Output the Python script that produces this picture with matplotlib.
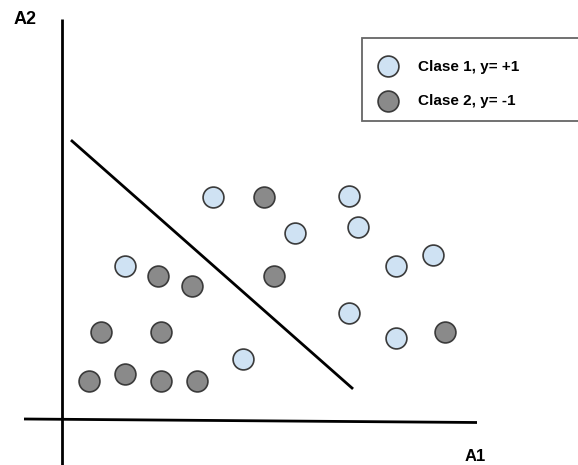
import matplotlib
matplotlib.use("Agg")
import matplotlib.pyplot as plt
from matplotlib.patches import Rectangle

plt.rcParams['font.family'] = ['Liberation Sans', 'DejaVu Sans']

# Data (A1, A2) in arbitrary units, origin at the axes crossing
clase1_a1 = [15.1, 28.7, 23.3, 29.6, 6.3, 33.4, 37.1, 28.7, 33.4, 18.1]
clase1_a2 = [22.2, 22.3, 18.6, 19.2, 15.3, 15.3, 16.4, 10.6, 8.1, 6.0]
clase2_a1 = [20.2, 9.6, 21.2, 13.0, 3.9, 9.9, 2.7, 6.3, 9.9, 13.5, 38.3]
clase2_a2 = [22.2, 14.3, 14.3, 13.3, 8.7, 8.7, 3.8, 4.5, 3.8, 3.8, 8.7]
separator_a1 = [1.0, 29.0]
separator_a2 = [27.8, 3.1]
labels = ["Clase 1, y= +1", "Clase 2, y= -1"]
axis_labels = ["A1", "A2"]

fig = plt.figure(figsize=(5.78, 4.65), dpi=100)
ax = fig.add_axes([0, 0, 1, 1])
ax.set_xlim(-6.2, 51.6)
ax.set_ylim(-4.6, 41.9)
ax.axis('off')

# drawn axes
ax.plot([0, 0], [-4.6, 40.0], color='black', lw=2.0, solid_capstyle='butt')
ax.plot([-3.8, 41.5], [0.0, -0.35], color='black', lw=2.0, solid_capstyle='butt')
ax.text(-3.7, 39.95, axis_labels[1], fontsize=13, fontweight='bold',
        ha='center', va='center')
ax.text(41.3, -3.7, axis_labels[0], fontsize=12, fontweight='bold',
        ha='center', va='center')

# separator
ax.plot(separator_a1, separator_a2, color='black', lw=2.0)

light = '#cfe2f3'
dark = '#8a8a8a'
edge = '#3a3a3a'
s1 = ax.scatter(clase1_a1, clase1_a2, s=225, facecolor=light, edgecolor=edge,
                linewidths=1.2, zorder=3, label=labels[0])
s2 = ax.scatter(clase2_a1, clase2_a2, s=225, facecolor=dark, edgecolor=edge,
                linewidths=1.2, zorder=3, label=labels[1])

# legend frame
ax.add_patch(Rectangle((362 / 578, 1 - 120.7 / 465), 220 / 578, 82.2 / 465,
                       transform=fig.transFigure, facecolor='white',
                       edgecolor='#666666', lw=1.3, zorder=4, clip_on=False))
leg = ax.legend(handles=[s1, s2], loc='upper left',
                bbox_to_anchor=(376.2 / 578, 1 - 59.5 / 465),
                bbox_transform=fig.transFigure, frameon=False,
                borderpad=0, borderaxespad=0, handlelength=1.5,
                handletextpad=1.21, labelspacing=1.36,
                prop={'size': 11, 'weight': 'bold'})
leg.set_zorder(6)

fig.savefig('out.png', dpi=100)
